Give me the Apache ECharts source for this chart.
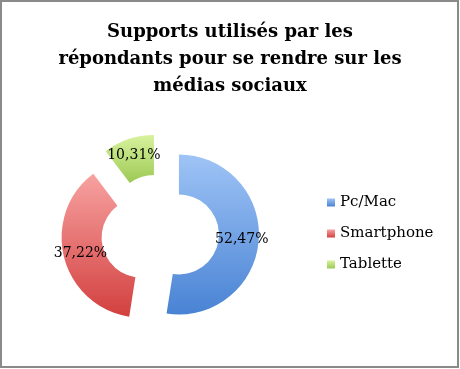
<!DOCTYPE html>
<html>
<head>
<meta charset="utf-8">
<script src="https://cdn.jsdelivr.net/npm/echarts@6/dist/echarts.min.js"></script>
<style>
html,body{margin:0;padding:0;background:#fff;}
#chart{width:460px;height:369px;}
</style>
</head>
<body>
<div id="chart"></div>
<script>
const titleText = "Supports utilisés par les\nrépondants pour se rendre sur les\nmédias sociaux";
const categories = ["Pc/Mac", "Smartphone", "Tablette"];
const values = [52.47, 37.22, 10.31];
const gradTop = ["#9fc4f6", "#f7a2a1", "#d8f29d"];
const gradBottom = ["#4983d4", "#d2403f", "#9cc954"];

const chart = echarts.init(document.getElementById('chart'));
const FONT = '"DejaVu Serif", serif';

const data = categories.map((name, i) => ({
  name: name,
  value: values[i],
  selected: true,
  itemStyle: {
    color: new echarts.graphic.LinearGradient(0, 0, 0, 1, [
      {offset: 0, color: gradTop[i]},
      {offset: 1, color: gradBottom[i]}
    ])
  }
}));

chart.setOption({
  animation: false,
  backgroundColor: '#ffffff',
  title: {
    text: titleText,
    left: 'center',
    top: 14,
    textStyle: {
      fontFamily: FONT,
      fontWeight: 'bold',
      fontSize: 18,
      lineHeight: 27,
      color: '#000'
    }
  },
  legend: {
    orient: 'vertical',
    left: 327,
    top: 195,
    padding: 0,
    itemWidth: 8,
    itemHeight: 8,
    itemGap: 16,
    icon: 'rect',
    data: categories,
    textStyle: {fontFamily: FONT, fontSize: 15, color: '#000'}
  },
  graphic: [{
    type: 'rect',
    shape: {x: 1, y: 1, width: 457, height: 366},
    style: {fill: 'none', stroke: '#8a8a8a', lineWidth: 2},
    silent: true
  }],
  series: [{
    type: 'pie',
    center: [160, 233],
    radius: [40, 80],
    startAngle: 90,
    clockwise: true,
    selectedMode: 'multiple',
    selectedOffset: 19,
    avoidLabelOverlap: false,
    label: {
      show: true,
      position: 'inside',
      fontFamily: FONT,
      fontSize: 14,
      color: '#000',
      formatter: p => p.value.toFixed(2).replace('.', ',') + '%'
    },
    labelLine: {show: false},
    emphasis: {disabled: true},
    select: {itemStyle: {borderWidth: 0}},
    data: data
  }]
});
</script>
</body>
</html>
